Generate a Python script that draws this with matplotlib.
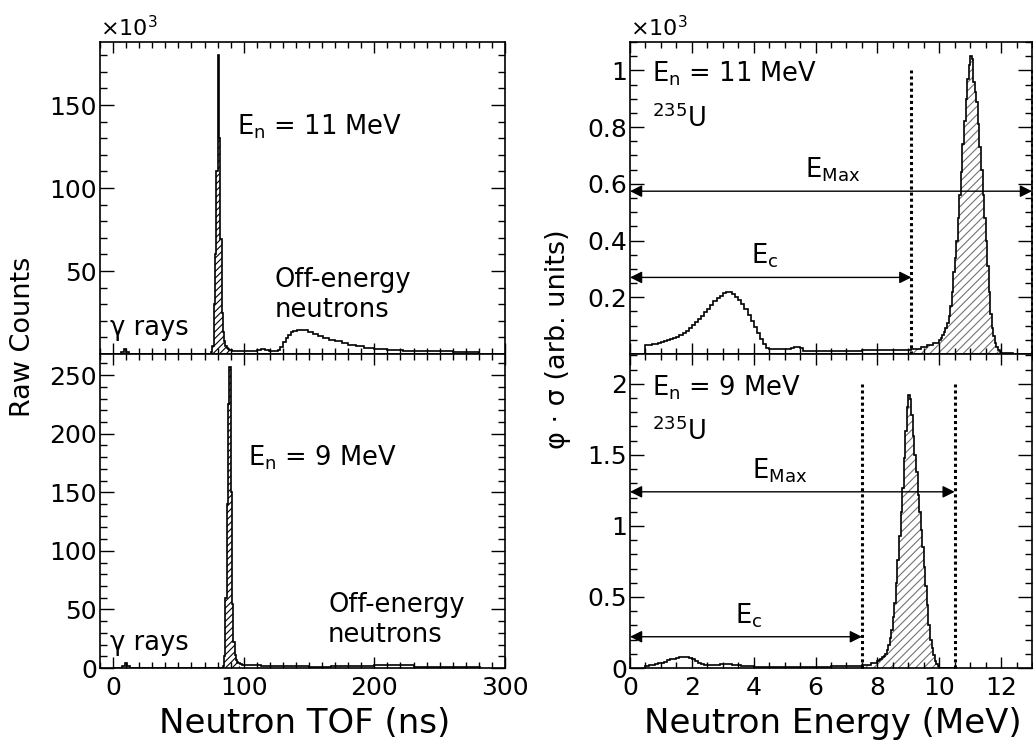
"""
Neutron TOF spectra and flux-weighted fission spectra for 235U
at En = 11 MeV and En = 9 MeV, with the E_c / E_Max integration windows.
Writes out.png.
"""

import numpy as np
import matplotlib.pyplot as plt
from matplotlib.ticker import MultipleLocator, FuncFormatter

plt.rcParams["hatch.linewidth"] = 0.8

# =============================================================================
# DATA
# =============================================================================

# --- TOF, En = 11 MeV (counts in units of 10^3) ---
tof11_edges = [0, 6, 8, 10, 12, 75, 76, 77, 78, 79, 80, 81, 82, 83, 84, 85, 86,
               87, 88, 89, 90, 91, 92, 110, 113, 116, 119, 126, 128, 130, 132,
               134, 136, 138, 141, 145, 149, 153, 157, 161, 165, 170, 175, 180,
               186, 192, 200, 210, 222, 240, 260, 280]
tof11_counts = [0.3, 1.0, 3.0, 1.0, 0.3,
                1.0, 5, 30, 60, 110, 180, 130, 69, 25, 13, 8, 5, 3.5, 2.8, 2.4,
                2.2, 2.0,
                1.8, 2.4, 3.2, 2.4, 1.8,
                2.5, 4.5, 7.0, 9.5, 11.5, 13.0, 14.0, 14.6, 14.3, 13.4, 12.2,
                11.0, 9.8, 8.7, 7.6, 6.6, 5.6, 4.6, 3.7, 2.9, 2.3, 1.9, 1.7, 1.4]
tof11_window = (76, 91)

# --- TOF, En = 9 MeV ---
tof9_edges = [0, 7, 9, 11, 13, 84, 85, 86, 87, 88, 89, 90, 91, 92, 93, 94, 95,
              96, 97, 98, 99, 113, 150, 167, 190, 200, 215, 230, 250, 281]
tof9_counts = [0.3, 1.5, 4.0, 1.5, 0.3,
               2, 10, 60, 140, 225, 257, 150, 55, 22, 11, 7, 5, 4, 3.5, 3,
               2.6, 1.7, 1.1, 1.6, 2.1, 2.6, 2.2, 1.1, 0.5]
tof9_window = (84, 97)

# --- phi*sigma vs energy, En = 11 MeV (units of 10^3) ---
e11_edges = np.round(np.concatenate([
    np.arange(0.5, 4.55, 0.1),
    [5.2, 5.3, 5.5, 5.6, 6.5, 7.5, 8.5, 9.1, 9.4, 9.6, 9.8],
    np.arange(10.0, 12.01, 0.05),
    [12.4]]), 3)
e11_flux = [
    # 0.5 - 4.5 MeV
    0.030, 0.032, 0.034, 0.037, 0.040, 0.043, 0.046, 0.049, 0.052, 0.056,
    0.061, 0.067, 0.074, 0.082, 0.091, 0.101, 0.112, 0.123, 0.135, 0.147,
    0.160, 0.173, 0.186, 0.198, 0.206, 0.214, 0.220, 0.218, 0.212, 0.202,
    0.190, 0.175, 0.158, 0.139, 0.118, 0.096, 0.073, 0.052, 0.034, 0.022,
    # 4.5 - 10 MeV
    0.018, 0.021, 0.025, 0.020, 0.012, 0.011, 0.013, 0.015, 0.018, 0.025,
    0.030, 0.040,
    # 10 - 12 MeV
    0.050, 0.058, 0.066, 0.076, 0.090, 0.110, 0.135, 0.170, 0.220, 0.290,
    0.340, 0.400, 0.480, 0.560, 0.640, 0.740, 0.820, 0.900, 0.970, 1.020,
    1.050, 1.040, 0.960, 0.925, 0.890, 0.810, 0.730, 0.650, 0.560, 0.480,
    0.400, 0.310, 0.220, 0.140, 0.090, 0.062, 0.040, 0.024, 0.013, 0.006,
    0.002]
e11_cut = 9.1    # E_c
e11_max = 13.0   # E_Max

# --- phi*sigma vs energy, En = 9 MeV ---
e9_edges = np.round(np.concatenate([
    np.arange(0.5, 2.55, 0.1),
    [2.9, 3.3, 3.6, 4.0, 5.2, 6.5, 7.5, 7.8],
    np.arange(8.0, 10.01, 0.05),
    [10.5]]), 3)
e9_flux = [
    # 0.5 - 2.5 MeV
    0.015, 0.020, 0.024, 0.028, 0.032, 0.037, 0.045, 0.053, 0.060, 0.066,
    0.071, 0.074, 0.075, 0.075, 0.072, 0.062, 0.048, 0.034, 0.025, 0.021,
    # 2.5 - 8 MeV
    0.022, 0.026, 0.022, 0.015, 0.006, 0.010, 0.013, 0.020, 0.035,
    # 8 - 10 MeV
    0.050, 0.058, 0.066, 0.075, 0.085, 0.100, 0.130, 0.165, 0.210, 0.270,
    0.360, 0.460, 0.600, 0.760, 0.930, 1.100, 1.270, 1.480, 1.670, 1.840,
    1.920, 1.890, 1.780, 1.630, 1.500, 1.380, 1.220, 1.100, 0.970, 0.850,
    0.710, 0.580, 0.440, 0.300, 0.200, 0.140, 0.090, 0.050, 0.025, 0.012,
    0.003]
e9_cut = 7.5
e9_max = 10.5


# =============================================================================
# HELPERS
# =============================================================================

def draw_hist(ax, edges, values, window, hatch_color, hatch):
    edges = np.asarray(edges, dtype=float)
    values = np.asarray(values, dtype=float)
    i0 = int(np.argmin(np.abs(edges - window[0])))
    i1 = int(np.argmin(np.abs(edges - window[1])))
    ax.stairs(values[i0:i1], edges[i0:i1 + 1], fill=True, baseline=0,
              facecolor="none", edgecolor=hatch_color, linewidth=0, hatch=hatch)
    ax.stairs(values, edges, baseline=0, color="black", linewidth=1.2)


def style_axes(ax, xmaj, xmin, ymaj, ymin, hide_zero=False):
    ax.xaxis.set_major_locator(MultipleLocator(xmaj))
    ax.xaxis.set_minor_locator(MultipleLocator(xmin))
    ax.yaxis.set_major_locator(MultipleLocator(ymaj))
    ax.yaxis.set_minor_locator(MultipleLocator(ymin))
    ax.tick_params(which="both", direction="in", top=True, right=True,
                   labelsize=18, width=1.0)
    ax.tick_params(axis="y", which="major", length=10, pad=2)
    ax.tick_params(axis="y", which="minor", length=5)
    ax.tick_params(axis="x", which="major", length=8, pad=6)
    ax.tick_params(axis="x", which="minor", length=4.5)
    fmt = FuncFormatter(lambda v, p: "" if (hide_zero and abs(v) < 1e-9) else f"{v:g}")
    ax.yaxis.set_major_formatter(fmt)
    ax.xaxis.set_major_formatter(FuncFormatter(lambda v, p: f"{v:g}"))
    for s in ax.spines.values():
        s.set_linewidth(1.2)


def window_arrow(ax, x_end, y, label, x_label):
    ax.annotate("", xy=(x_end, y), xytext=(0, y),
                arrowprops=dict(arrowstyle="<|-|>", color="black", lw=1.0,
                                mutation_scale=18, shrinkA=0, shrinkB=0))
    ax.annotate(label, xy=(x_label, y), xytext=(0, 5), textcoords="offset points",
                ha="center", va="bottom", fontsize=18.5)


def dotted(ax, x, top):
    ax.plot([x, x], [0, top], color="black", lw=2.2, linestyle=(0, (1, 1)),
            clip_on=False)


# =============================================================================
# FIGURE
# =============================================================================

W, H = 1033, 747
fig = plt.figure(figsize=(W / 100, H / 100), dpi=100)

def px_axes(x0, y0, x1, y1):
    return fig.add_axes([x0 / W, 1 - y1 / H, (x1 - x0) / W, (y1 - y0) / H])

ax_tl = px_axes(100, 42, 505, 354)
ax_bl = px_axes(100, 354, 505, 668)
ax_tr = px_axes(630, 42, 1032, 354)
ax_br = px_axes(630, 354, 1032, 668)

# ── Left: TOF spectra ────────────────────────────────────────────────────────
draw_hist(ax_tl, tof11_edges, tof11_counts, tof11_window, "black", "/////")
ax_tl.set_xlim(-10, 300)
ax_tl.set_ylim(0, 188)
style_axes(ax_tl, 100, 10, 50, 10, hide_zero=True)
ax_tl.tick_params(labelbottom=False)
ax_tl.text(0, 1.02, r"$\times$10$^{3}$", transform=ax_tl.transAxes,
           fontsize=16, va="baseline", ha="left")
ax_tl.text(0.338, 0.702, r"$\mathregular{E_n}$ = 11 MeV", transform=ax_tl.transAxes,
           fontsize=18.5, va="baseline")
ax_tl.text(0.432, 0.215, "Off-energy", transform=ax_tl.transAxes, fontsize=18.5, va="baseline")
ax_tl.text(0.432, 0.119, "neutrons", transform=ax_tl.transAxes, fontsize=18.5, va="baseline")
ax_tl.text(0.025, 0.061, "γ rays", transform=ax_tl.transAxes, fontsize=18.5, va="baseline")

draw_hist(ax_bl, tof9_edges, tof9_counts, tof9_window, "black", "/////")
ax_bl.set_xlim(-10, 300)
ax_bl.set_ylim(0, 268)
style_axes(ax_bl, 100, 10, 50, 10)
ax_bl.text(0.365, 0.646, r"$\mathregular{E_n}$ = 9 MeV", transform=ax_bl.transAxes,
           fontsize=18.5, va="baseline")
ax_bl.text(0.563, 0.179, "Off-energy", transform=ax_bl.transAxes, fontsize=18.5, va="baseline")
ax_bl.text(0.563, 0.084, "neutrons", transform=ax_bl.transAxes, fontsize=18.5, va="baseline")
ax_bl.text(0.025, 0.057, "γ rays", transform=ax_bl.transAxes, fontsize=18.5, va="baseline")

# ── Right: flux x cross section vs energy ────────────────────────────────────
draw_hist(ax_tr, e11_edges, e11_flux, (e11_cut, 12.4), "0.45", "////")
ax_tr.set_xlim(0, 13)
ax_tr.set_ylim(0, 1.10)
style_axes(ax_tr, 2, 0.5, 0.2, 0.05, hide_zero=True)
ax_tr.tick_params(labelbottom=False)
ax_tr.text(0, 1.02, r"$\times$10$^{3}$", transform=ax_tr.transAxes,
           fontsize=16, va="baseline", ha="left")
ax_tr.text(0.054, 0.873, r"$\mathregular{E_n}$ = 11 MeV", transform=ax_tr.transAxes,
           fontsize=18.5, va="baseline")
ax_tr.text(0.054, 0.729, r"$^{235}$U", transform=ax_tr.transAxes,
           fontsize=18.5, va="baseline")
dotted(ax_tr, e11_cut, 1.0)
dotted(ax_tr, e11_max, 1.0)
window_arrow(ax_tr, e11_max, 0.574, r"E$_{\mathregular{Max}}$", 6.55)
window_arrow(ax_tr, e11_cut, 0.27, r"E$_{\mathregular{c}}$", 4.37)

draw_hist(ax_br, e9_edges, e9_flux, (e9_cut, e9_max), "0.45", "////")
ax_br.set_xlim(0, 13)
ax_br.set_ylim(0, 2.21)
style_axes(ax_br, 2, 0.5, 0.5, 0.1)
ax_br.text(0.054, 0.869, r"$\mathregular{E_n}$ = 9 MeV", transform=ax_br.transAxes,
           fontsize=18.5, va="baseline")
ax_br.text(0.054, 0.726, r"$^{235}$U", transform=ax_br.transAxes,
           fontsize=18.5, va="baseline")
dotted(ax_br, e9_cut, 2.0)
dotted(ax_br, e9_max, 2.0)
window_arrow(ax_br, e9_max, 1.24, r"E$_{\mathregular{Max}}$", 4.83)
window_arrow(ax_br, e9_cut, 0.22, r"E$_{\mathregular{c}}$", 3.85)

# ── Axis titles ──────────────────────────────────────────────────────────────
fig.text(304.5 / W, 1 - 733 / H, "Neutron TOF (ns)", fontsize=24.5,
         ha="center", va="baseline")
fig.text(832.5 / W, 1 - 733 / H, "Neutron Energy (MeV)", fontsize=24.5,
         ha="center", va="baseline")
fig.text(23 / W, 1 - 337 / H, "Raw Counts", fontsize=19.5, rotation=90,
         ha="center", va="center")
fig.text(558 / W, 1 - 339 / H, "φ · σ (arb. units)", fontsize=19.5, rotation=90,
         ha="center", va="center")

fig.savefig("out.png", dpi=100)
plt.close(fig)
